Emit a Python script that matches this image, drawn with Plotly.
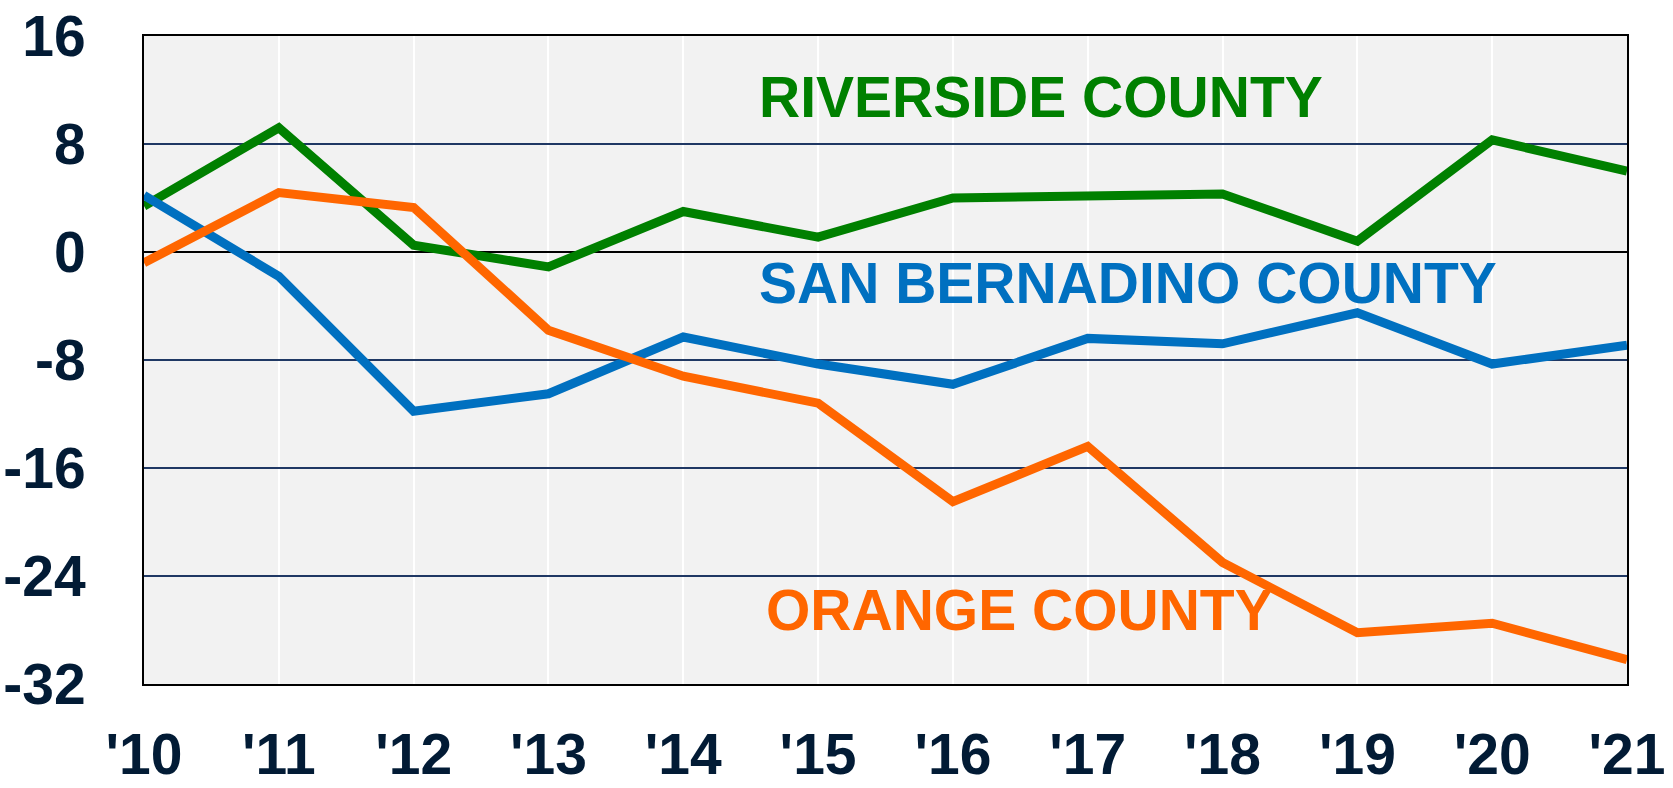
import plotly.graph_objects as go

years = list(range(2010, 2022))
year_labels = ["'10", "'11", "'12", "'13", "'14", "'15", "'16", "'17", "'18", "'19", "'20", "'21"]

riverside = [3.4, 9.2, 0.5, -1.1, 3.0, 1.1, 4.0, 4.2, 4.3, 0.8, 8.3, 6.0]
san_bernardino = [4.2, -1.8, -11.8, -10.5, -6.3, -8.3, -9.8, -6.4, -6.8, -4.5, -8.3, -6.9]
orange = [-0.8, 4.4, 3.3, -5.8, -9.2, -11.2, -18.5, -14.4, -23.0, -28.2, -27.5, -30.2]

y_ticks = [16, 8, 0, -8, -16, -24, -32]

FONT = "Liberation Sans Narrow, Arial Narrow, Liberation Sans, Arial, sans-serif"
GREEN = "#008000"
BLUE = "#0070C0"
ORANGE = "#FF6600"
NAVY = "#021B35"
FS = 57

fig = go.Figure()
fig.add_trace(go.Scatter(x=years, y=riverside, mode="lines", line=dict(color=GREEN, width=9), name="Riverside County"))
fig.add_trace(go.Scatter(x=years, y=san_bernardino, mode="lines", line=dict(color=BLUE, width=9), name="San Bernadino County"))
fig.add_trace(go.Scatter(x=years, y=orange, mode="lines", line=dict(color=ORANGE, width=9), name="Orange County"))

labels = [
    ("RIVERSIDE COUNTY", 2014.55, 11.5, GREEN),
    ("SAN BERNADINO COUNTY", 2014.55, -2.3, BLUE),
    ("ORANGE COUNTY", 2014.6, -26.5, ORANGE),
]
for text, x, y, c in labels:
    fig.add_annotation(x=x, y=y, text="<b>%s</b>" % text, showarrow=False,
                       xanchor="left", yanchor="middle",
                       font=dict(family=FONT, size=FS, color=c))

fig.update_layout(
    width=1673, height=788,
    margin=dict(l=144, r=46, t=36, b=104),
    paper_bgcolor="white",
    plot_bgcolor="#F2F2F2",
    showlegend=False,
    font=dict(family=FONT, size=FS, color=NAVY),
)
fig.update_xaxes(
    range=[2010, 2021], tickvals=years, ticktext=["<b>%s</b>" % t for t in year_labels],
    showgrid=True, gridcolor="white", gridwidth=2,
    showline=True, linecolor="black", linewidth=2, mirror=True,
    ticks="", ticklabelstandoff=20, automargin=False,
    tickfont=dict(family=FONT, size=FS, color=NAVY),
    zeroline=False,
)
fig.update_yaxes(
    range=[-32, 16], tickvals=y_ticks, ticktext=["<b>%d</b>" % v for v in y_ticks],
    showgrid=True, gridcolor="#1F3864", gridwidth=1.5,
    zeroline=True, zerolinecolor="black", zerolinewidth=2,
    showline=True, linecolor="black", linewidth=2, mirror=True,
    ticks="", ticklabelstandoff=45, automargin=False,
    tickfont=dict(family=FONT, size=FS, color=NAVY),
)

fig.write_html("out.html", config={"displayModeBar": False},
               post_script="document.body.style.margin='0';document.body.style.overflow='hidden';")
